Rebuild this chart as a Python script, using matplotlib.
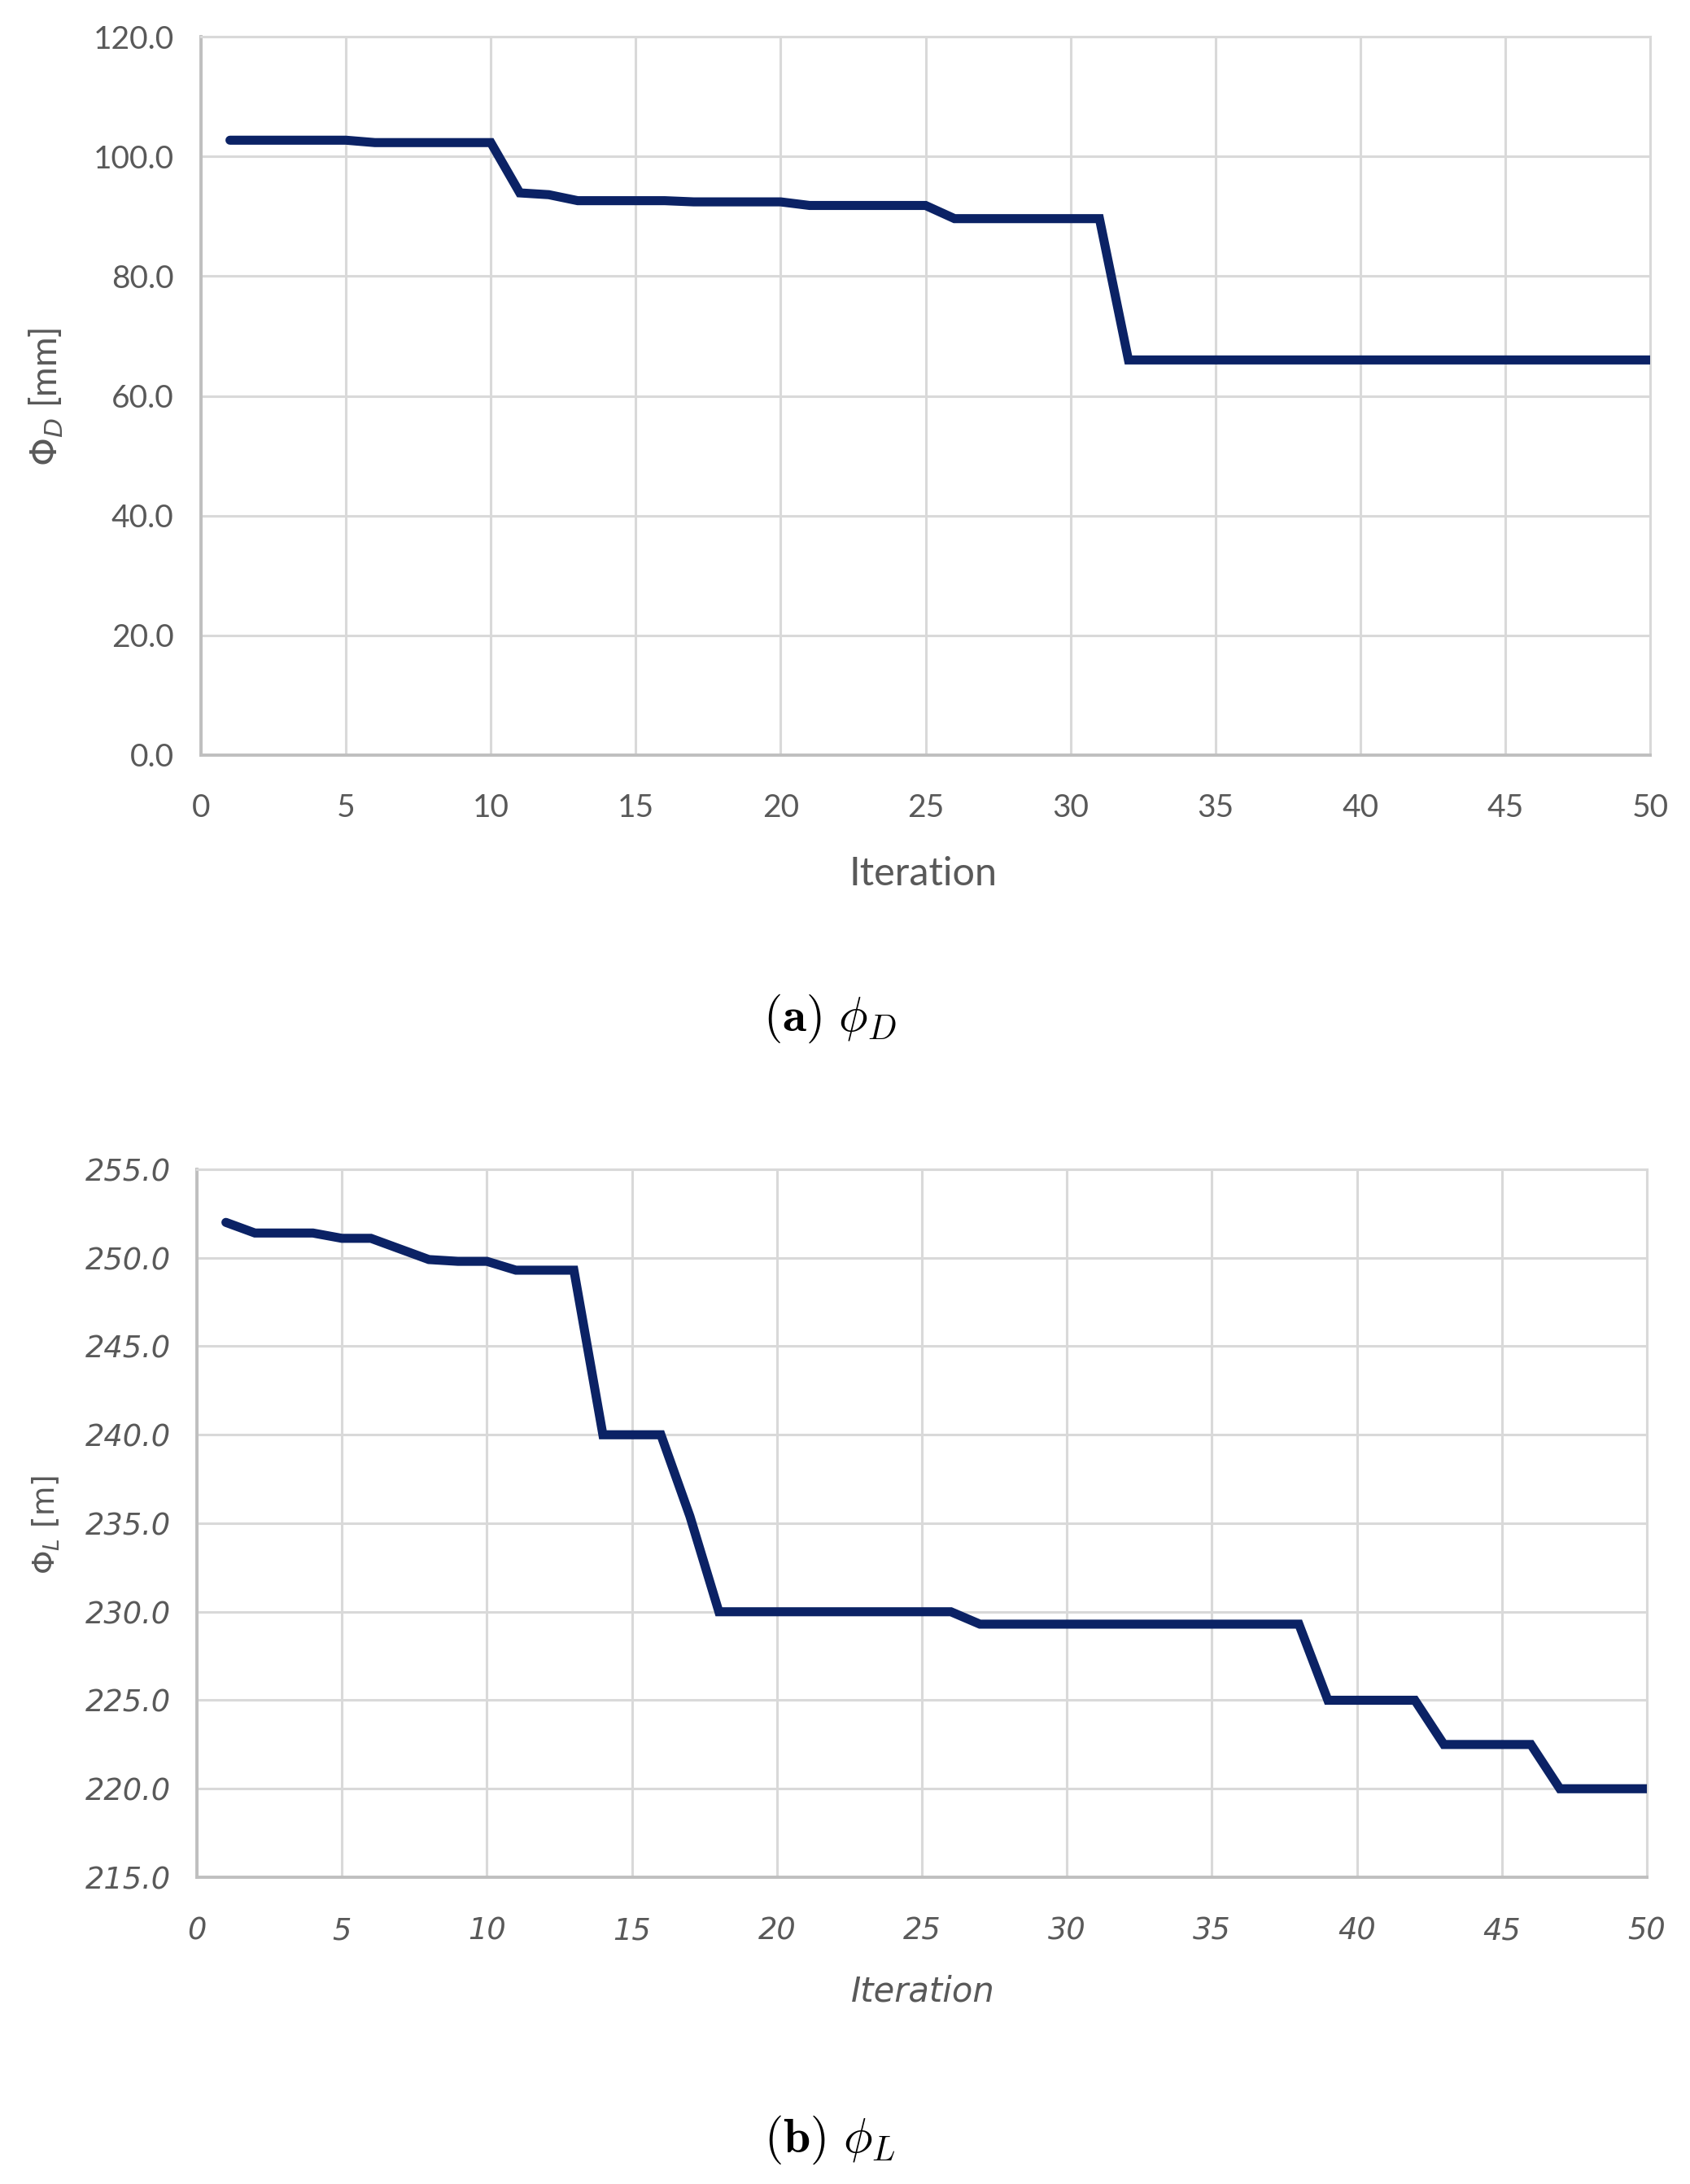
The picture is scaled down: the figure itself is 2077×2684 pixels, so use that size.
import matplotlib
matplotlib.use("Agg")
import matplotlib.pyplot as plt
import numpy as np

# ---------------- data ----------------
iterations = list(range(1, 51))
phi_D = ([102.7] * 5 + [102.3] * 5 + [93.9, 93.6] + [92.6] * 4 + [92.4] * 4 +
         [91.8] * 5 + [89.6] * 6 + [66.0] * 19)
phi_L = ([252.0, 251.4, 251.4, 251.4, 251.1, 251.1, 250.5, 249.9, 249.8, 249.8,
          249.3, 249.3, 249.3, 240.0, 240.0, 240.0, 235.4] + [230.0] * 9 +
         [229.3] * 12 + [225.0] * 4 + [222.5] * 4 + [220.0] * 4)
xticks = [0, 5, 10, 15, 20, 25, 30, 35, 40, 45, 50]
yticks_D = [0, 20, 40, 60, 80, 100, 120]
yticks_L = [215, 220, 225, 230, 235, 240, 245, 250, 255]

LINE = '#0b2265'
GRID = '#d9d9d9'
AXC = '#bfbfbf'
TXT = '#595959'

W, H = 2077, 2684
fig = plt.figure(figsize=(W / 100, H / 100), dpi=100)


def frac_axes(l, t, r, b):
    return [l / W, 1 - b / H, (r - l) / W, (b - t) / H]


def style(ax, xpad, ypad):
    ax.grid(True, color=GRID, linewidth=2.2, zorder=0)
    ax.set_axisbelow(True)
    for s in ['top', 'right']:
        ax.spines[s].set_color(GRID)
        ax.spines[s].set_linewidth(2.2)
    for s in ['left', 'bottom']:
        ax.spines[s].set_color(AXC)
        ax.spines[s].set_linewidth(2.8)
    ax.tick_params(axis='both', length=0, colors=TXT)
    ax.tick_params(axis='x', pad=xpad)
    ax.tick_params(axis='y', pad=ypad)


# ---------------- top panel ----------------
ax1 = fig.add_axes(frac_axes(247, 45, 2028, 928))
ax1.plot(iterations, phi_D, color=LINE, linewidth=8, solid_capstyle='round',
         solid_joinstyle='miter', zorder=3)
ax1.set_xlim(0, 50)
ax1.set_ylim(0, 120)
ax1.set_xticks(xticks)
ax1.set_yticks(yticks_D)
ax1.set_yticklabels([f"{v:.1f}" for v in yticks_D])
style(ax1, 34, 24)
for lab in ax1.get_xticklabels() + ax1.get_yticklabels():
    lab.set_fontfamily(['Lato', 'DejaVu Sans'])
    lab.set_fontsize(28)
    lab.set_color(TXT)

fig.text(1135 / W, 1 - 1074 / H, 'Iteration', ha='center', va='center',
         fontsize=35, color=TXT, family=['Lato', 'DejaVu Sans'])
fig.text(57 / W, 1 - 488 / H, r'$\mathit{Φ}_{\mathit{D}}$ [mm]', rotation=90,
         ha='center', va='center', fontsize=32, color=TXT,
         family=['Lato', 'DejaVu Sans'], math_fontfamily='dejavusans')

fig.text(1020 / W, 1 - 1252 / H, r'$(\mathbf{a})\ \phi_D$', ha='center',
         va='center', fontsize=43, color='black', math_fontfamily='cm')

# ---------------- bottom panel ----------------
ax2 = fig.add_axes(frac_axes(242, 1437, 2024, 2307))
ax2.plot(iterations, phi_L, color=LINE, linewidth=8, solid_capstyle='round',
         solid_joinstyle='miter', zorder=3)
ax2.set_xlim(0, 50)
ax2.set_ylim(215, 255)
ax2.set_xticks(xticks)
ax2.set_yticks(yticks_L)
ax2.set_yticklabels([f"{v:.1f}" for v in yticks_L])
style(ax2, 34, 23)
for lab in ax2.get_xticklabels() + ax2.get_yticklabels():
    lab.set_fontfamily('DejaVu Sans')
    lab.set_fontstyle('oblique')
    lab.set_fontsize(26.5)
    lab.set_color(TXT)

fig.text(1134 / W, 1 - 2448 / H, 'Iteration', ha='center', va='center',
         fontsize=30, color=TXT, family='DejaVu Sans', style='oblique')
fig.text(57 / W, 1 - 1874 / H, r'$\mathit{Φ}_{L}$ [m]', rotation=90,
         ha='center', va='center', fontsize=27, color=TXT,
         family='DejaVu Sans', math_fontfamily='dejavusans')

fig.text(1020 / W, 1 - 2630 / H, r'$\mathbf{(b)}\ \phi_L$', ha='center',
         va='center', fontsize=43, color='black', math_fontfamily='cm')

fig.savefig('out.png', dpi=100, facecolor='white')
